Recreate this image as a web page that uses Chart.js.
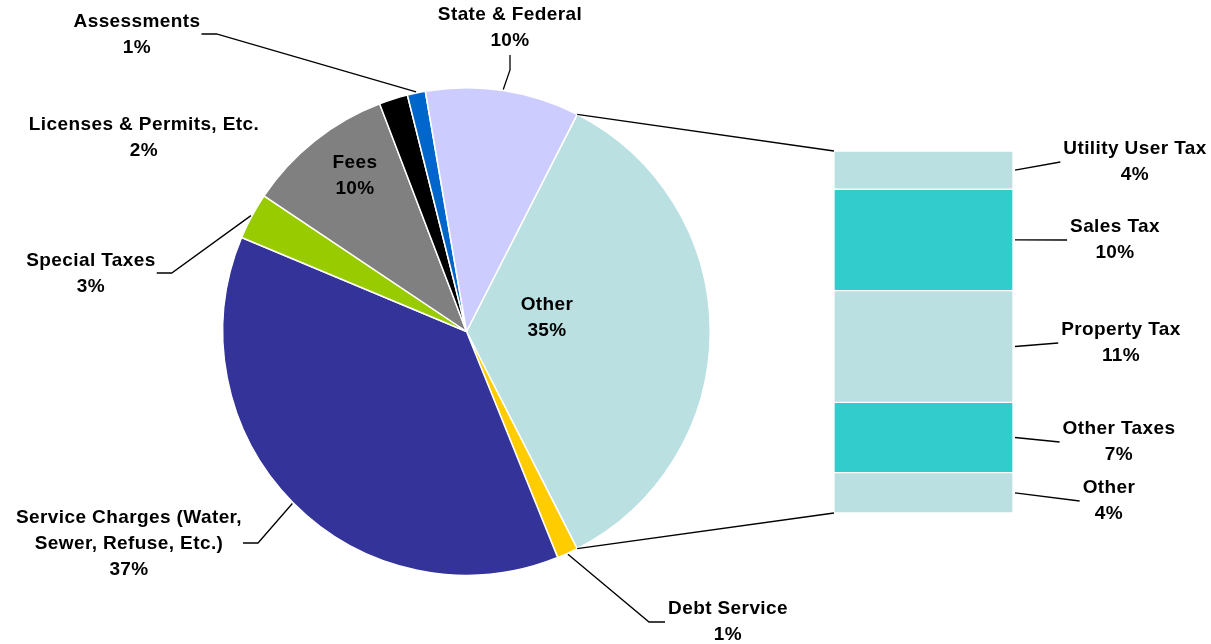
<!DOCTYPE html>
<html>
<head>
<meta charset="utf-8">
<title>Revenue Sources</title>
<script src="https://cdn.jsdelivr.net/npm/chart.js@4.4.1/dist/chart.umd.min.js"></script>
<style>
  html, body { margin: 0; padding: 0; background: #fff; }
  #wrap { position: relative; width: 1211px; height: 644px; }
  #wrap canvas { position: absolute; left: 0; top: 0; }
</style>
</head>
<body>
<div id="wrap">
  <canvas id="pie" width="1211" height="644"></canvas>
  <canvas id="bar" width="1211" height="644"></canvas>
</div>
<script>
// pie slices, clockwise starting with "Other"
var pieNames = ['Other', 'Debt Service', 'Service Charges (Water,\nSewer, Refuse, Etc.)', 'Special Taxes', 'Fees', 'Licenses & Permits, Etc.', 'Assessments', 'State & Federal'];
var pieValues = [35.0, 1.4, 37.4, 3.1, 9.8, 1.9, 1.2, 10.2];
var pieColors = ['#BAE0E2', '#FFCC00', '#333399', '#99CC00', '#808080', '#000000', '#0066CC', '#CCCCFF'];

// split of "Other" shown in the bar, top to bottom
var barNames = ['Utility User Tax', 'Sales Tax', 'Property Tax', 'Other Taxes', 'Other'];
var barValues = [3.7, 9.8, 10.8, 6.8, 3.9];
var barColors = ['#BAE0E2', '#33CCCC', '#BAE0E2', '#33CCCC', '#BAE0E2'];

// where the labels sit (center x, first line y) and which side the leader line leaves from
var pieSpots = [[547, 305], [728, 609], [129, 518], [91, 261], [355, 163], [144, 125], [137, 22], [510, 15]];
var pieLeader = ['none', 'left', 'right', 'right', 'none', 'none', 'right', 'bottom'];
var barSpots = [[1135, 149], [1115, 227], [1121, 330], [1119, 429], [1109, 488]];

var FONT = 'bold 19px "Liberation Sans", Arial, sans-serif';
var LINE_H = 26;

function sum(arr) {
    var s = 0;
    for (var i = 0; i < arr.length; i++) s += arr[i];
    return s;
}

function pct(v) {
    return Math.round(v) + '%';
}

// writes a multi line label and gives back its box
function drawLabel(ctx, lines, cx, cy) {
    ctx.save();
    ctx.font = FONT;
    ctx.letterSpacing = '0.4px';
    ctx.fillStyle = '#000';
    ctx.textAlign = 'center';
    ctx.textBaseline = 'middle';
    var w = 0;
    for (var i = 0; i < lines.length; i++) {
        ctx.fillText(lines[i], cx, cy + i * LINE_H);
        w = Math.max(w, ctx.measureText(lines[i]).width);
    }
    ctx.restore();
    var last = cy + (lines.length - 1) * LINE_H;
    return { left: cx - w / 2, right: cx + w / 2, bottom: last + 13, mid: (cy + last) / 2 };
}

function line(ctx, pts) {
    ctx.save();
    ctx.strokeStyle = '#000';
    ctx.lineWidth = 1.3;
    ctx.beginPath();
    ctx.moveTo(pts[0][0], pts[0][1]);
    for (var i = 1; i < pts.length; i++) ctx.lineTo(pts[i][0], pts[i][1]);
    ctx.stroke();
    ctx.restore();
}

// ---------- bar of pie ----------
var barLabels = {
    id: 'barLabels',
    afterDraw: function(chart) {
        var ctx = chart.ctx;
        for (var i = 0; i < barValues.length; i++) {
            var el = chart.getDatasetMeta(i).data[0];
            var right = el.x + el.width / 2;
            var segMid = (el.y + el.base) / 2;
            var box = drawLabel(ctx, [barNames[i], pct(barValues[i])], barSpots[i][0], barSpots[i][1]);
            line(ctx, [[right + 2, segMid], [box.left - 3, box.mid]]);
        }
    }
};

var barChart = new Chart(document.getElementById('bar'), {
    type: 'bar',
    data: {
        labels: ['Other'],
        datasets: barValues.map(function(v, i) {
            return {
                label: barNames[i],
                data: [v],
                backgroundColor: barColors[i],
                borderColor: '#fff',
                borderWidth: 1,
                borderSkipped: false,
                barPercentage: 1,
                categoryPercentage: 1
            };
        })
    },
    options: {
        responsive: false,
        animation: false,
        events: [],
        layout: { padding: { left: 834, right: 198, top: 151, bottom: 131 } },
        plugins: { legend: { display: false }, tooltip: { enabled: false } },
        scales: {
            x: { stacked: true, display: false },
            y: { stacked: true, display: false, reverse: true, min: 0, max: sum(barValues) }
        }
    },
    plugins: [barLabels]
});

// ---------- pie ----------
var pieLabels = {
    id: 'pieLabels',
    afterDraw: function(chart) {
        var ctx = chart.ctx;
        var arcs = chart.getDatasetMeta(0).data;
        for (var i = 0; i < arcs.length; i++) {
            var p = arcs[i].getProps(['x', 'y', 'startAngle', 'endAngle', 'outerRadius'], true);
            var lines = pieNames[i].split('\n').concat([pct(pieValues[i])]);
            var box = drawLabel(ctx, lines, pieSpots[i][0], pieSpots[i][1]);
            var side = pieLeader[i];
            if (side === 'none') continue;
            var a = (p.startAngle + p.endAngle) / 2;
            var s = [p.x + Math.cos(a) * (p.outerRadius + 1), p.y + Math.sin(a) * (p.outerRadius + 1)];
            var e, k;
            if (side === 'right') {
                e = [box.right + 1, box.mid - 1];
                k = [e[0] + 15, e[1]];
            } else if (side === 'left') {
                e = [box.left - 3, box.mid];
                k = [e[0] - 16, e[1]];
            } else {
                e = [pieSpots[i][0], box.bottom + 1];
                k = [e[0], e[1] + 15];
            }
            line(ctx, [s, k, e]);
        }

        // lines joining the "Other" slice to the bar
        var o = arcs[0].getProps(['x', 'y', 'startAngle', 'endAngle', 'outerRadius'], true);
        var first = barChart.getDatasetMeta(0).data[0];
        var lastEl = barChart.getDatasetMeta(barValues.length - 1).data[0];
        var left = first.x - first.width / 2;
        var top = Math.min(first.y, first.base);
        var bottom = Math.max(lastEl.y, lastEl.base);
        line(ctx, [[o.x + Math.cos(o.startAngle) * o.outerRadius, o.y + Math.sin(o.startAngle) * o.outerRadius], [left, top]]);
        line(ctx, [[o.x + Math.cos(o.endAngle) * o.outerRadius, o.y + Math.sin(o.endAngle) * o.outerRadius], [left, bottom]]);
    }
};

// "Other" slice centred on the right hand side, like Excel's pie of bar
var rotation = 90 - (pieValues[0] / sum(pieValues)) * 360 / 2;

var pieChart = new Chart(document.getElementById('pie'), {
    type: 'pie',
    data: {
        labels: pieNames,
        datasets: [{
            data: pieValues,
            backgroundColor: pieColors,
            borderColor: '#fff',
            borderWidth: 1.5
        }]
    },
    options: {
        responsive: false,
        animation: false,
        events: [],
        rotation: rotation,
        layout: { padding: { left: 222, right: 500, top: 87, bottom: 68 } },
        plugins: { legend: { display: false }, tooltip: { enabled: false } }
    },
    plugins: [pieLabels]
});
</script>
</body>
</html>
